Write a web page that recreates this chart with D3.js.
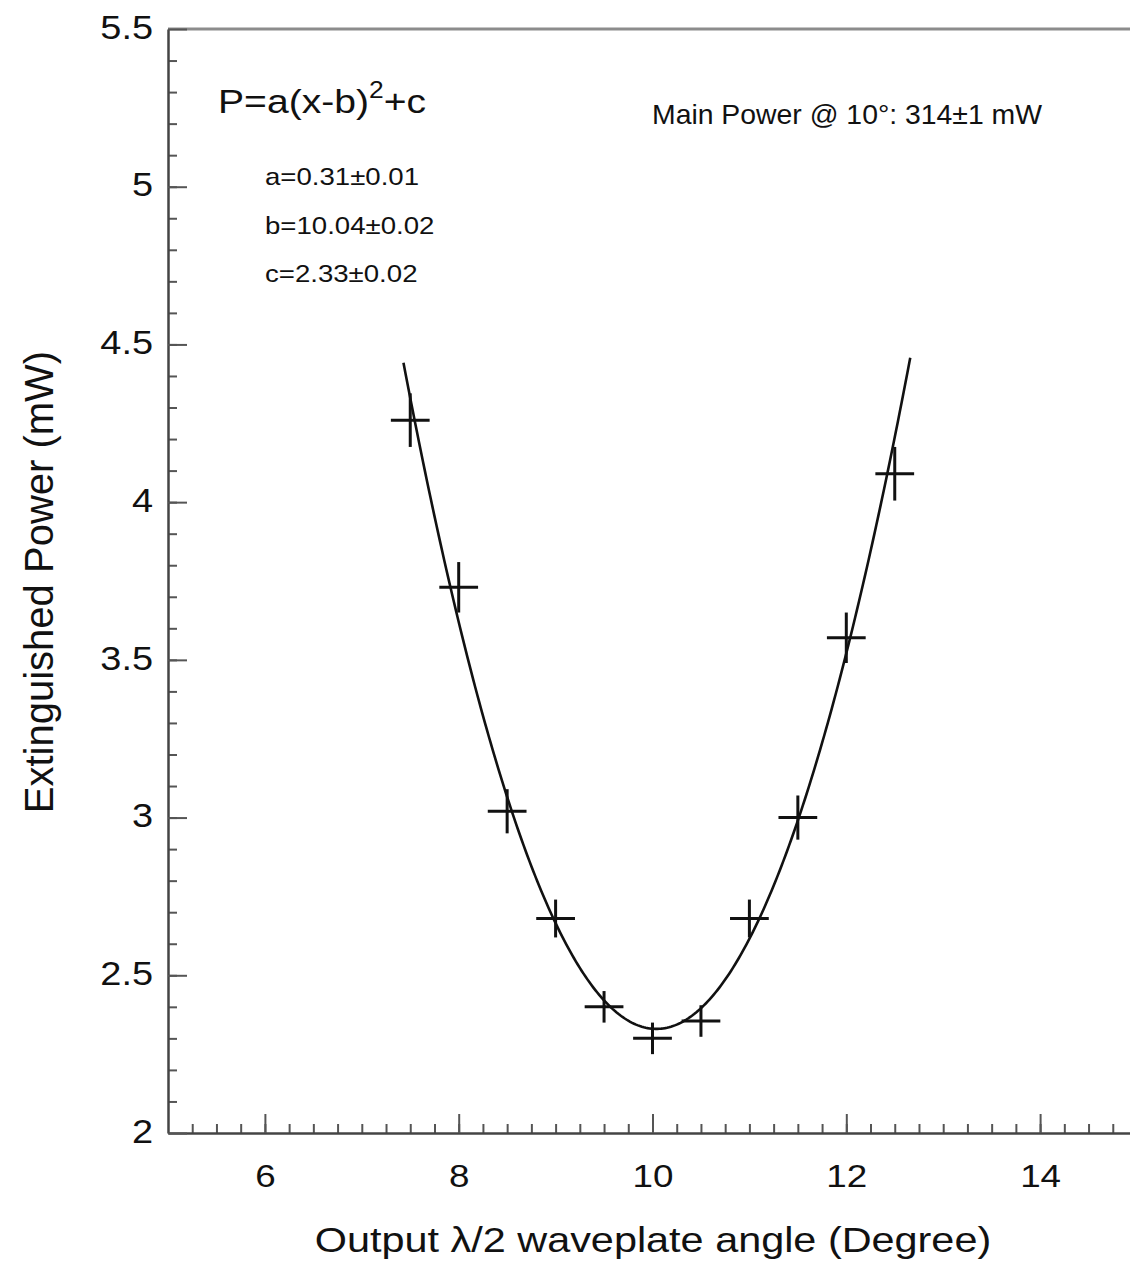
<!DOCTYPE html>
<html>
<head>
<meta charset="utf-8">
<script src="https://cdn.jsdelivr.net/npm/d3@7"></script>
<style>
  body { margin: 0; background: #fff; }
  text { font-family: "Liberation Sans", Arial, sans-serif; fill: #111; }
</style>
</head>
<body>
<script>
// data
const angles    = [7.5, 8.0, 8.5, 9.0, 9.5, 10.0, 10.5, 11.0, 11.5, 12.0, 12.5];
const powers    = [4.26, 3.73, 3.02, 2.68, 2.40, 2.30, 2.355, 2.68, 3.00, 3.57, 4.09];
const angleErr  = [0.2, 0.2, 0.2, 0.2, 0.2, 0.2, 0.2, 0.2, 0.2, 0.2, 0.2];
const powerErr  = [0.085, 0.08, 0.07, 0.06, 0.05, 0.05, 0.05, 0.06, 0.07, 0.08, 0.085];

// fit written on the chart: P = a(x-b)^2 + c
const fitA = 0.31, fitB = 10.04, fitC = 2.33;
const fitRange = [7.43, 12.66];

const xTicks = [6, 8, 10, 12, 14];
const yTicks = [2, 2.5, 3, 3.5, 4, 4.5, 5, 5.5];
const fitLines = ["a=0.31\u00b10.01", "b=10.04\u00b10.02", "c=2.33\u00b10.02"];

var width = 1130, height = 1266;
var stretch = 1.15; // glyphs in the picture are wider than Arial

var x = d3.scaleLinear().domain([5, 15]).range([168, 1137]);
var y = d3.scaleLinear().domain([2, 5.5]).range([1133, 29]);

var svg = d3.select("body").append("svg")
    .attr("width", width)
    .attr("height", height);

// top frame line
svg.append("line")
    .attr("x1", x(5)).attr("x2", x(15))
    .attr("y1", y(5.5)).attr("y2", y(5.5))
    .attr("stroke", "#8c8c8c").attr("stroke-width", 3);

// minor ticks
svg.append("g")
    .attr("transform", "translate(0," + y(2) + ")")
    .call(d3.axisBottom(x).tickValues(d3.range(5.25, 15, 0.25)).tickSize(-9).tickSizeOuter(0).tickFormat(""))
    .call(g => g.select(".domain").remove())
    .call(g => g.selectAll("line").attr("stroke", "#555").attr("stroke-width", 2));

svg.append("g")
    .attr("transform", "translate(" + x(5) + ",0)")
    .call(d3.axisLeft(y).tickValues(d3.range(2.1, 5.5, 0.1)).tickSize(-9).tickSizeOuter(0).tickFormat(""))
    .call(g => g.select(".domain").remove())
    .call(g => g.selectAll("line").attr("stroke", "#555").attr("stroke-width", 2));

// major ticks + labels
var ejeX = svg.append("g")
    .attr("transform", "translate(0," + y(2) + ")")
    .call(d3.axisBottom(x).tickValues(xTicks).tickSize(-19).tickSizeOuter(0).tickPadding(31).tickFormat(d3.format("d")));
ejeX.select(".domain").attr("stroke", "#444").attr("stroke-width", 2.5);
ejeX.selectAll("line").attr("stroke", "#555").attr("stroke-width", 2);
ejeX.selectAll("text")
    .style("font-size", "32px")
    .attr("fill", "#111")
    .attr("transform", "scale(" + stretch + ",1)");

var ejeY = svg.append("g")
    .attr("transform", "translate(" + x(5) + ",0)")
    .call(d3.axisLeft(y).tickValues(yTicks).tickSize(-19).tickSizeOuter(0).tickPadding(13).tickFormat(d => d));
ejeY.select(".domain").attr("stroke", "#444").attr("stroke-width", 2.5);
ejeY.selectAll("line").attr("stroke", "#555").attr("stroke-width", 2);
ejeY.selectAll("text")
    .style("font-size", "33px")
    .attr("fill", "#111")
    .attr("dy", "0.28em")
    .attr("transform", "scale(" + stretch + ",1)");

// fit curve
var curveX = d3.range(fitRange[0], fitRange[1], 0.02).concat([fitRange[1]]);
var line = d3.line()
    .x(d => x(d))
    .y(d => y(fitA * (d - fitB) * (d - fitB) + fitC))
    .curve(d3.curveLinear);

svg.append("path")
    .datum(curveX)
    .attr("d", line)
    .attr("fill", "none")
    .attr("stroke", "#111")
    .attr("stroke-width", 2.6);

// data points as error crosses
var puntos = svg.append("g").selectAll("g")
    .data(angles.map((a, i) => ({ x: a, y: powers[i], ex: angleErr[i], ey: powerErr[i] })))
    .enter().append("g")
    .attr("stroke", "#111")
    .attr("stroke-width", 3);

puntos.append("line")
    .attr("x1", d => x(d.x - d.ex)).attr("x2", d => x(d.x + d.ex))
    .attr("y1", d => y(d.y)).attr("y2", d => y(d.y));
puntos.append("line")
    .attr("x1", d => x(d.x)).attr("x2", d => x(d.x))
    .attr("y1", d => y(d.y - d.ey)).attr("y2", d => y(d.y + d.ey));

// texts
function stretched(px, py, size, anchor) {
    return svg.append("text")
        .attr("transform", "translate(" + px + "," + py + ") scale(" + stretch + ",1)")
        .attr("text-anchor", anchor || "start")
        .style("font-size", size + "px");
}

var formula = stretched(218, 113, 34);
formula.append("tspan").text("P=a(x-b)");
formula.append("tspan").attr("dy", -15).style("font-size", "23px").text("2");
formula.append("tspan").attr("dy", 15).text("+c");

fitLines.forEach(function (t, i) {
    stretched(265, 185 + i * 48.5, 24).text(t);
});

svg.append("text")
    .attr("x", 652).attr("y", 124)
    .style("font-size", "28px")
    .attr("textLength", 390)
    .attr("lengthAdjust", "spacingAndGlyphs")
    .text("Main Power @ 10\u00b0: 314\u00b11 mW");

stretched(653, 1252, 36, "middle").text("Output \u03bb/2 waveplate angle (Degree)");

svg.append("text")
    .attr("transform", "translate(53,582) rotate(-90)")
    .attr("text-anchor", "middle")
    .style("font-size", "40px")
    .text("Extinguished Power (mW)");
</script>
</body>
</html>
